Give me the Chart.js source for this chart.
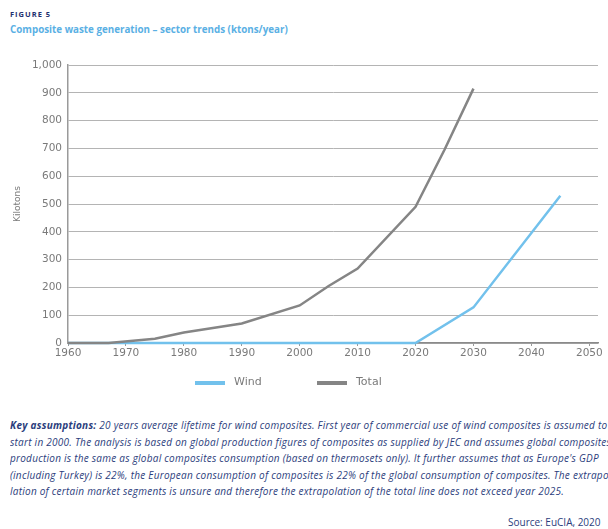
<!DOCTYPE html>
<html>
<head>
<meta charset="utf-8">
<script src="https://cdn.jsdelivr.net/npm/chart.js@4"></script>
<style>
  body { margin: 0; width: 608px; height: 529px; overflow: hidden; background: #fff; position: relative; font-family: "Open Sans", sans-serif; }
  #fig { position: absolute; left: 10px; top: 9px; font: bold 7.5px "Open Sans", sans-serif; color: #1f3170; letter-spacing: 1px; }
  #title { position: absolute; left: 10px; top: 23px; font: bold 9.8px "Open Sans", sans-serif; color: #5ab0e4; white-space: nowrap; }
  #wrap { position: absolute; left: 0; top: 0; width: 608px; height: 400px; }
  .leg { position: absolute; top: 375px; font: 11px "DejaVu Sans", sans-serif; color: #7a7a7a; }
  .leg i { position: absolute; top: 6px; width: 30px; height: 3.5px; }
  #notes { position: absolute; left: 10px; top: 417px; width: 598px; overflow: hidden; font: italic 10px "Open Sans", sans-serif; letter-spacing: 0.25px; color: #2b3d7c; line-height: 16.5px; white-space: nowrap; }
  #source { position: absolute; left: 508px; top: 515px; font: 10px "Open Sans", sans-serif; color: #2b3d7c; white-space: nowrap; }
</style>
</head>
<body>
<div id="fig">FIGURE 5</div>
<div id="title">Composite waste generation – sector trends (ktons/year)</div>
<div id="wrap"><canvas id="chart" width="608" height="400"></canvas></div>
<div class="leg" style="left:195px"><i style="left:0;background:#72c1ec"></i><span style="margin-left:39px">Wind</span></div>
<div class="leg" style="left:317px"><i style="left:0;background:#858585"></i><span style="margin-left:39px">Total</span></div>
<div id="notes">
  <div><b>Key assumptions:</b> 20 years average lifetime for wind composites. First year of commercial use of wind composites is assumed to</div>
  <div>start in 2000. The analysis is based on global production figures of composites as supplied by JEC and assumes global composites</div>
  <div>production is the same as global composites consumption (based on thermosets only). It further assumes that as Europe's GDP</div>
  <div>(including Turkey) is 22%, the European consumption of composites is 22% of the global consumption of composites. The extrapo-</div>
  <div>lation of certain market segments is unsure and therefore the extrapolation of the total line does not exceed year 2025.</div>
</div>
<div id="source">Source: EuCIA, 2020</div>
<script>
const windYears = [1960, 2020, 2030, 2045];
const windValues = [0, 0, 128, 530];
const totalYears = [1960, 1967, 1975, 1980, 1990, 2000, 2005, 2010, 2020, 2025, 2030];
const totalValues = [0, 0, 15, 38, 70, 135, 205, 268, 490, 695, 915];

function toPoints(xs, ys) {
  let pts = [];
  for (let i = 0; i < xs.length; i++) {
    pts.push({ x: xs[i], y: ys[i] });
  }
  return pts;
}

const tickFont = { family: "DejaVu Sans", size: 10.5 };

const ctx = document.getElementById("chart").getContext("2d");
const chart = new Chart(ctx, {
  type: "line",
  data: {
    datasets: [
      {
        label: "Wind",
        data: toPoints(windYears, windValues),
        borderColor: "#72c1ec",
        borderWidth: 2.5,
        pointRadius: 0,
        tension: 0,
        clip: 5,
        order: 1,
      },
      {
        label: "Total",
        data: toPoints(totalYears, totalValues),
        borderColor: "#858585",
        borderWidth: 2.5,
        pointRadius: 0,
        tension: 0,
        clip: 5,
        order: 0,
      },
    ],
  },
  options: {
    responsive: false,
    animation: false,
    layout: { padding: { top: 65, right: 10, bottom: 32, left: 0 } },
    plugins: {
      legend: { display: false },
      tooltip: { enabled: false },
    },
    scales: {
      x: {
        type: "linear",
        min: 1960,
        max: 2051.5,
        ticks: {
          stepSize: 10,
          includeBounds: false,
          color: "#7a7a7a",
          font: tickFont,
          padding: 1,
          maxRotation: 0,
          callback: (v) => String(v),
        },
        grid: { display: true, drawOnChartArea: false, tickLength: 3, color: "#999" },
        border: { color: "#8a8a8a", width: 1.5 },
        afterFit: (scale) => { scale.height = 25; },
      },
      y: {
        min: 0,
        max: 1000,
        ticks: { stepSize: 100, color: "#7a7a7a", font: tickFont, padding: 6 },
        grid: { color: "#b4b4b4", lineWidth: 1, drawTicks: false },
        border: { color: "#9a9a9a", width: 1.5 },
        title: {
          display: true,
          text: "Kilotons",
          color: "#7a7a7a",
          font: { family: "DejaVu Sans", size: 9 },
          padding: { top: 12, bottom: 0 },
        },
        afterFit: (scale) => { scale.width = 68; },
      },
    },
  },
});
</script>
</body>
</html>
